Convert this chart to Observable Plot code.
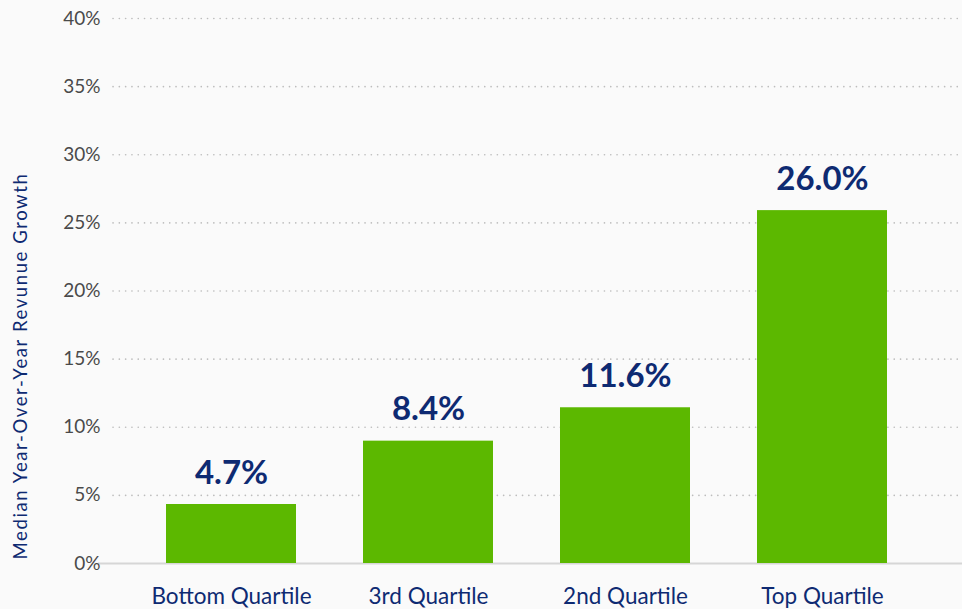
<!DOCTYPE html>
<html>
<head>
<meta charset="utf-8">
<script src="https://cdn.jsdelivr.net/npm/d3@7"></script>
<script src="https://cdn.jsdelivr.net/npm/@observablehq/plot@0.6"></script>
<style>
  html, body { margin: 0; padding: 0; background: #fafafa; }
  #chart svg { display: block; }
</style>
</head>
<body>
<div id="chart"></div>
<script>
const categories = ["Bottom Quartile", "3rd Quartile", "2nd Quartile", "Top Quartile"];
const barValues = [4.33, 8.98, 11.43, 25.9];
const valueLabels = ["4.7%", "8.4%", "11.6%", "26.0%"];
const yTicks = [0, 5, 10, 15, 20, 25, 30, 35, 40];
const yLabel = "Median Year-Over-Year Revunue Growth";

const data = categories.map((c, i) => ({category: c, value: barValues[i], label: valueLabels[i]}));
const navy = "#0e2a72";
const font = "Lato, 'Open Sans', sans-serif";

const chart = Plot.plot({
  width: 962,
  height: 609,
  marginLeft: 98,
  marginRight: 0,
  marginTop: 18,
  marginBottom: 46,
  style: {background: "#fafafa", fontFamily: font},
  x: {
    domain: categories,
    paddingInner: 0.342,
    paddingOuter: 0.358,
    align: 0.473,
    label: null
  },
  y: {domain: [0, 40], label: null},
  marks: [
    Plot.ruleY(yTicks.filter(d => d > 0), {
      stroke: "#bdbdbd",
      strokeWidth: 1.6,
      strokeDasharray: "0.1,6.2",
      strokeLinecap: "round",
      insetLeft: 15
    }),
    Plot.ruleY([0], {stroke: "#d6d6d6", strokeWidth: 2}),
    Plot.barY(data, {x: "category", y: "value", fill: "#5cb800"}),
    Plot.text(data, {
      x: "category", y: "value", text: "label",
      lineAnchor: "bottom", dy: -21,
      fill: navy, fontSize: 33, fontWeight: "bold", fontFamily: font
    }),
    Plot.axisY({
      ticks: yTicks,
      tickFormat: d => d + "%",
      tickSize: 0,
      tickPadding: -2,
      fontSize: 19,
      fill: "#4a4a4a",
      label: null
    }),
    Plot.axisX({
      tickSize: 0,
      tickPadding: 25,
      fontSize: 22.5,
      fill: navy,
      label: null
    }),
    Plot.text([yLabel], {
      frameAnchor: "left",
      textAnchor: "middle",
      rotate: -90,
      dx: -77,
      dy: 75,
      fill: navy,
      fontSize: 18.5,
      fontFamily: font
    })
  ]
});
d3.select(chart).selectAll("text")
  .filter(function() { return this.textContent === yLabel; })
  .style("letter-spacing", "1.6px");
document.getElementById("chart").append(chart);
</script>
</body>
</html>
